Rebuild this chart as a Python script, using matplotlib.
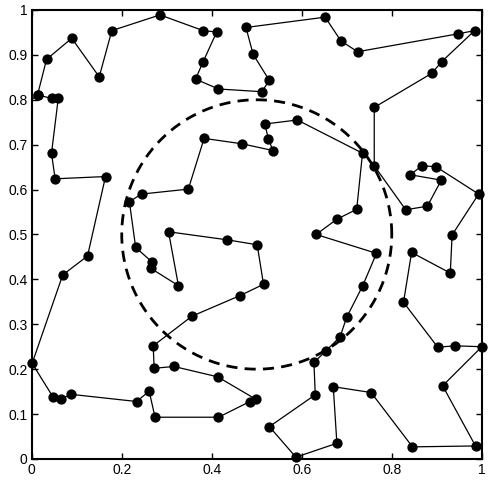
import numpy as np
import matplotlib
matplotlib.use('Agg')
import matplotlib.pyplot as plt

# Tour points, in the order the path visits them
tour_x = [0.000, 0.013, 0.044, 0.059, 0.044, 0.052, 0.164, 0.124, 0.069, 0.001,
          0.048, 0.064, 0.087, 0.233, 0.261, 0.274, 0.415, 0.485, 0.498, 0.413,
          0.316, 0.272, 0.270, 0.356, 0.463, 0.515, 0.501, 0.435, 0.304, 0.326,
          0.264, 0.267, 0.231, 0.217, 0.244, 0.348, 0.383, 0.467, 0.536, 0.526,
          0.518, 0.590, 0.735, 0.722, 0.678, 0.632, 0.766, 0.735, 0.700, 0.685,
          0.654, 0.627, 0.630, 0.528, 0.587, 0.678, 0.670, 0.754, 0.846, 0.986,
          0.913, 1.000, 0.941, 0.902, 0.826, 0.844, 0.930, 0.934, 0.993, 0.898,
          0.867, 0.841, 0.910, 0.879, 0.831, 0.761, 0.761, 0.889, 0.911, 0.984,
          0.948, 0.724, 0.687, 0.652, 0.476, 0.492, 0.528, 0.511, 0.415, 0.364,
          0.381, 0.411, 0.381, 0.285, 0.178, 0.150, 0.089, 0.033, 0.013]
tour_y = [0.800, 0.811, 0.803, 0.803, 0.681, 0.624, 0.629, 0.452, 0.410, 0.213,
          0.137, 0.133, 0.144, 0.128, 0.151, 0.093, 0.093, 0.128, 0.133, 0.183,
          0.206, 0.202, 0.252, 0.318, 0.364, 0.389, 0.477, 0.488, 0.506, 0.386,
          0.425, 0.439, 0.471, 0.573, 0.590, 0.601, 0.714, 0.702, 0.687, 0.712,
          0.746, 0.755, 0.681, 0.556, 0.534, 0.500, 0.458, 0.385, 0.316, 0.272,
          0.241, 0.215, 0.143, 0.072, 0.004, 0.035, 0.161, 0.148, 0.027, 0.029,
          0.163, 0.250, 0.252, 0.249, 0.349, 0.460, 0.414, 0.499, 0.590, 0.651,
          0.653, 0.633, 0.621, 0.563, 0.555, 0.653, 0.783, 0.859, 0.885, 0.954,
          0.947, 0.907, 0.931, 0.984, 0.961, 0.901, 0.843, 0.818, 0.824, 0.846,
          0.885, 0.951, 0.954, 0.989, 0.954, 0.851, 0.937, 0.890, 0.811]

# Dashed circle
center = (0.5, 0.5)
radius = 0.3

xticks = [0, 0.2, 0.4, 0.6, 0.8, 1]
yticks = [0, 0.1, 0.2, 0.3, 0.4, 0.5, 0.6, 0.7, 0.8, 0.9, 1]

plt.rcParams['font.family'] = ['Liberation Sans', 'DejaVu Sans']

fig = plt.figure(figsize=(4.93, 4.84), dpi=100)
ax = fig.add_axes([0.0643, 0.0517, 0.913, 0.9277])

# first vertex sits on the left spine, no dot drawn there
ax.plot(tour_x, tour_y, color='black', lw=0.9, marker='o', ms=6.4,
        mfc='black', mec='black', markevery=list(range(1, len(tour_x))),
        clip_on=False, zorder=3)

t = np.linspace(0, 2 * np.pi, 400)
ax.plot(center[0] + radius * np.cos(t), center[1] + radius * np.sin(t),
        color='black', lw=2.0, dashes=(4, 2.6))

ax.set_xlim(0, 1)
ax.set_ylim(0, 1)
ax.set_xticks(xticks)
ax.set_yticks(yticks)
ax.set_xticklabels([f'{v:g}' for v in xticks])
ax.set_yticklabels([f'{v:g}' for v in yticks])
ax.tick_params(direction='in', length=4, width=1, top=True, right=True,
               labelsize=10, colors='black', pad=3)
for s in ax.spines.values():
    s.set_linewidth(1.5)

fig.savefig('out.png', dpi=100)
